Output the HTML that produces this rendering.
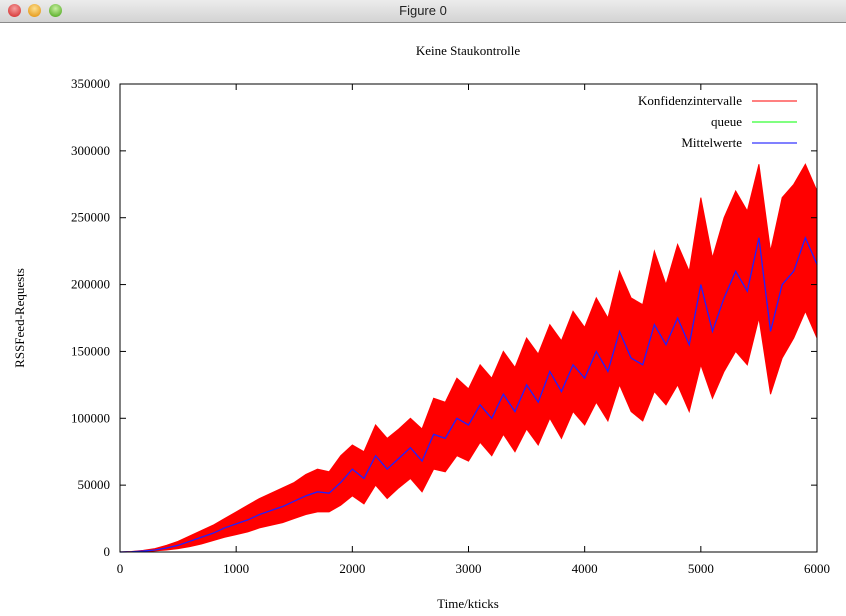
<!DOCTYPE html>
<html><head><meta charset="utf-8"><style>
body{margin:0;width:846px;height:616px;overflow:hidden;background:#fff;font-family:"Liberation Serif",serif}
#bar{position:absolute;left:0;top:0;width:846px;height:22px;background:linear-gradient(#ececec,#d3d3d3);border-bottom:1px solid #8a8a8a;text-align:center;font:13px "Liberation Sans",sans-serif;line-height:22px;color:#222}
.btn{position:absolute;top:4px;width:13px;height:13px;border-radius:50%}
svg{position:absolute;left:0;top:0}
</style></head><body>
<div id="bar">Figure 0
<div class="btn" style="left:8px;background:radial-gradient(circle at 50% 35%,#f6a0a0,#d02020)"></div>
<div class="btn" style="left:28px;background:radial-gradient(circle at 50% 35%,#fde090,#e08a00)"></div>
<div class="btn" style="left:49px;background:radial-gradient(circle at 50% 35%,#c8f0a0,#40a010)"></div>
</div>
<svg id="chart" width="846" height="616"></svg>
<script>
const times=[];for(let i=0;i<=60;i++)times.push(i*100);
const meanValues=[0,200,700,1500,3000,5000,8000,11000,14000,18000,21000,24000,28000,31000,34000,38000,42000,45000,44000,52000,62000,55000,72000,62000,70000,78000,68000,88000,85000,100000,95000,110000,100000,118000,105000,125000,112000,135000,120000,140000,130000,150000,135000,165000,145000,140000,170000,155000,175000,155000,200000,165000,190000,210000,195000,235000,165000,200000,210000,235000,215000];
const upperValues=[0,400,1200,2500,5000,8000,12000,16000,20000,25000,30000,35000,40000,44000,48000,52000,58000,62000,60000,72000,80000,75000,95000,85000,92000,100000,92000,115000,112000,130000,122000,140000,130000,150000,138000,160000,148000,170000,158000,180000,168000,190000,175000,210000,190000,185000,225000,200000,230000,210000,265000,220000,250000,270000,255000,290000,225000,265000,275000,290000,270000];
const lowerValues=[0,50,300,800,1500,2500,4000,6000,8500,11000,13000,15000,18000,20000,22000,25000,28000,30000,30000,35000,42000,36000,50000,40000,48000,55000,45000,62000,60000,72000,68000,82000,72000,88000,75000,92000,80000,100000,85000,105000,95000,112000,98000,125000,105000,98000,120000,110000,125000,105000,140000,115000,135000,150000,140000,175000,118000,145000,160000,180000,160000];
const xTicks=[0,1000,2000,3000,4000,5000,6000];
const yTicks=[0,50000,100000,150000,200000,250000,300000,350000];
const legendLabels=["Konfidenzintervalle","queue","Mittelwerte"];
const legendColors=["#ff0000","#00ff00","#0000ff"];
const L=120,R=817,T=84,B=552;
const X=t=>L+t*(R-L)/6000, Y=v=>B-v*(B-T)/350000;
const svg=document.getElementById('chart'),NS='http://www.w3.org/2000/svg';
function mk(tag,at,parent){const e=document.createElementNS(NS,tag);for(const k in at)e.setAttribute(k,at[k]);(parent||svg).appendChild(e);return e;}
let t=mk('text',{x:468,y:55,'text-anchor':'middle','font-size':13});t.textContent='Keine Staukontrolle';


// band
let pts=times.map((tt,i)=>X(tt)+','+Y(upperValues[i]));
for(let i=times.length-1;i>=0;i--)pts.push(X(times[i])+','+Y(lowerValues[i]));
let band=mk('polygon',{points:pts.join(' '),fill:'#ff0000',stroke:'#ff0000','stroke-width':1});


let ml=mk('polyline',{points:times.map((tt,i)=>X(tt)+','+Y(meanValues[i])).join(' '),fill:'none',stroke:'#2020ff','stroke-width':1.3});


let fr=mk('rect',{x:L,y:T,width:R-L,height:B-T,fill:'none',stroke:'#000','stroke-width':1});


xTicks.forEach(v=>{const x=X(v);
 mk('line',{x1:x,x2:x,y1:B,y2:B-6,stroke:'#000'});mk('line',{x1:x,x2:x,y1:T,y2:T+6,stroke:'#000'});
 const e=mk('text',{x:x,y:B+21,'text-anchor':'middle','font-size':13});e.textContent=v;
 
 });
yTicks.forEach(v=>{const y=Y(v);
 mk('line',{x1:L,x2:L+6,y1:y,y2:y,stroke:'#000'});mk('line',{x1:R,x2:R-6,y1:y,y2:y,stroke:'#000'});
 const e=mk('text',{x:110,y:y+4,'text-anchor':'end','font-size':13});e.textContent=v;
 
 });
let xl=mk('text',{x:468,y:608,'text-anchor':'middle','font-size':13});xl.textContent='Time/kticks';


let yl=mk('text',{x:0,y:0,'text-anchor':'middle','font-size':13,transform:'translate(24,318) rotate(-90)'});yl.textContent='RSSFeed-Requests';


legendLabels.forEach((lab,i)=>{const y=101+i*21;
 const g=mk('g',{});
 
 
 const e=mk('text',{x:742,y:y+4,'text-anchor':'end','font-size':13},g);e.textContent=lab;
 mk('line',{x1:752,x2:797,y1:y,y2:y,stroke:legendColors[i],'stroke-width':1},g);});
</script>
</body></html>
